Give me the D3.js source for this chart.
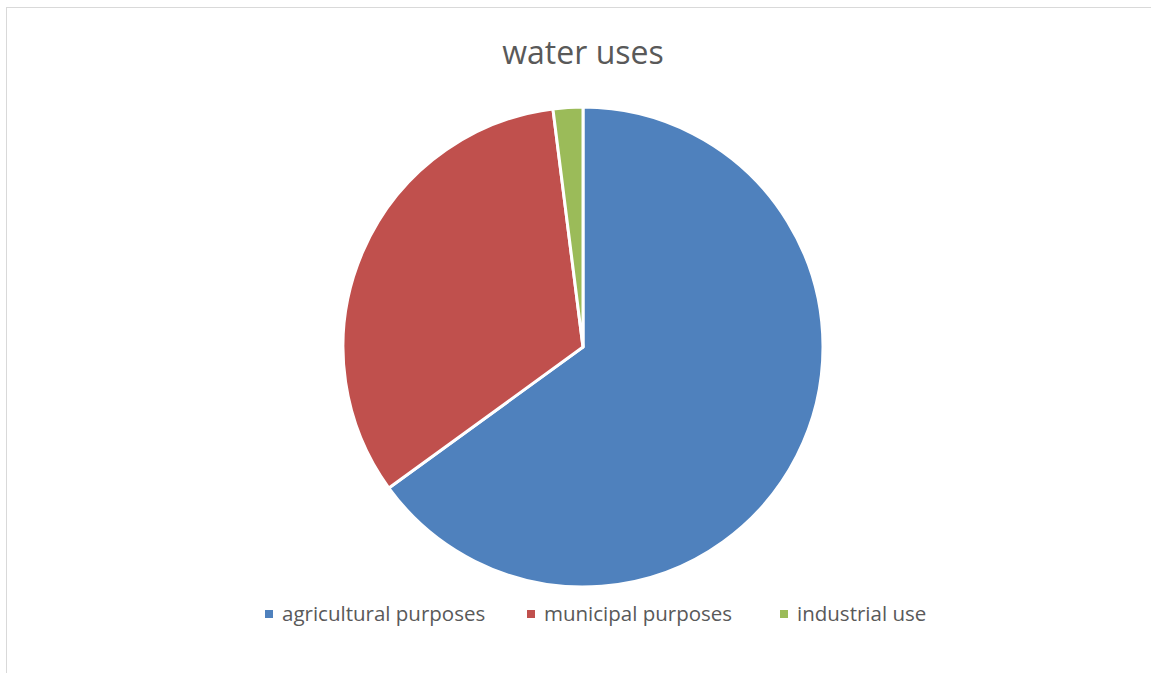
<!DOCTYPE html>
<html>
<head>
<meta charset="utf-8">
<script src="https://cdn.jsdelivr.net/npm/d3@7"></script>
<style>
  body { margin: 0; background: #fff; }
  text { font-family: "Open Sans", "Noto Sans", sans-serif; fill: #595959; }
</style>
</head>
<body>
<div id="chart"></div>
<script>
// chart data
var labels = ["agricultural purposes", "municipal purposes", "industrial use"];
var values = [65, 33, 2];
var colors = ["#4F81BD", "#C0504D", "#9BBB59"];

var svgWidth = 1151;
var svgHeight = 673;

var svg = d3.select("#chart")
  .append("svg")
  .attr("width", svgWidth)
  .attr("height", svgHeight);

// outer frame (right/bottom edges fall off the picture)
svg.append("rect")
  .attr("x", 6.5)
  .attr("y", 7.5)
  .attr("width", 1160)
  .attr("height", 680)
  .attr("fill", "none")
  .attr("stroke", "#d9d9d9")
  .attr("stroke-width", 1);

svg.append("text")
  .attr("x", 583)
  .attr("y", 64)
  .attr("text-anchor", "middle")
  .attr("font-size", 32)
  .text("water uses");

var cx = 583, cy = 347, radius = 240;

var pie = d3.pie().sort(null).value(d => d);
var arc = d3.arc().innerRadius(0).outerRadius(radius);

var pieGroup = svg.append("g")
  .attr("transform", `translate(${cx}, ${cy})`);

pieGroup.selectAll("path")
  .data(pie(values))
  .enter()
  .append("path")
  .attr("d", arc)
  .attr("fill", (d, i) => colors[i])
  .attr("stroke", "#fff")
  .attr("stroke-width", 3)
  .attr("stroke-linejoin", "round");

// legend
var legendX = [265, 527, 780];
var legend = svg.append("g");
var items = legend.selectAll("g")
  .data(labels)
  .enter()
  .append("g")
  .attr("transform", (d, i) => `translate(${legendX[i]}, 614)`);

items.append("rect")
  .attr("x", 0)
  .attr("y", -4)
  .attr("width", 8)
  .attr("height", 8)
  .attr("fill", (d, i) => colors[i]);

items.append("text")
  .attr("x", 17)
  .attr("y", 7)
  .attr("font-size", 20.5)
  .text(d => d);
</script>
</body>
</html>
